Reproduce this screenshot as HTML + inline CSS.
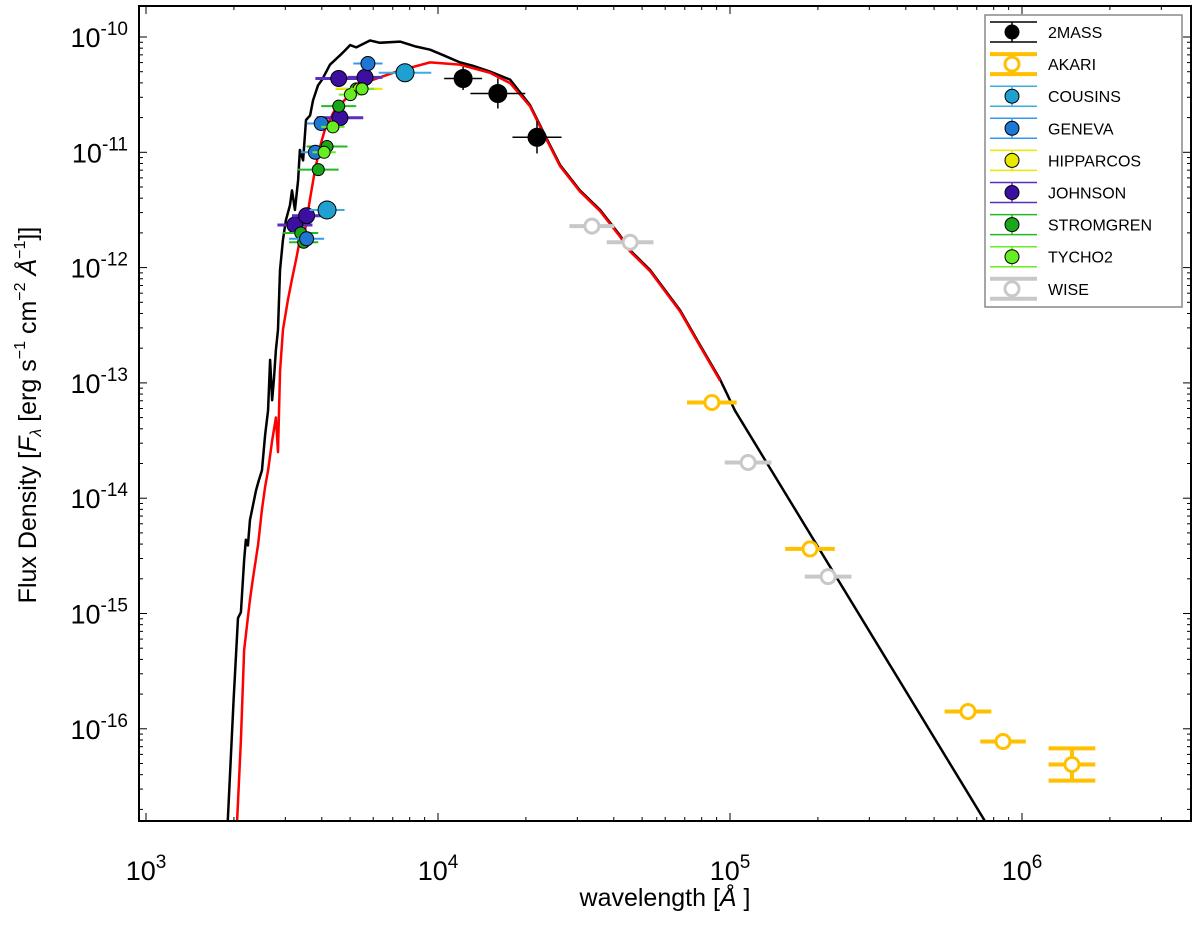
<!DOCTYPE html>
<html><head><meta charset="utf-8"><style>
body{margin:0;background:#fff;width:1200px;height:922px;overflow:hidden}
svg text{font-family:"Liberation Sans","DejaVu Sans",sans-serif}
</style></head><body>
<svg id="chart" width="1200" height="922" xmlns="http://www.w3.org/2000/svg">
<g id="marks"></g><g id="axes"></g><g id="legend"></g>
</svg>
<script>
// data in log10 units
const blackL=[3.28,3.30,3.315,3.325,3.336,3.342,3.349,3.356,3.377,3.387,3.397,3.408,3.418,3.425,3.432,3.438,3.445,3.452,3.459,3.469,3.479,3.493,3.50,3.51,3.521,3.527,3.538,3.548,3.562,3.572,3.589,3.603,3.63,3.664,3.68,3.699,3.72,3.767,3.8,3.87,3.92,3.973,4.02,4.075,4.12,4.178,4.247,4.315,4.366,4.418,4.486,4.555,4.623,4.658,4.726,4.829,4.897,4.966,5.017,5.873];
const blackF=[-16.8,-15.75,-15.04,-14.99,-14.54,-14.36,-14.41,-14.19,-13.93,-13.84,-13.76,-13.45,-13.24,-12.8,-13.15,-12.97,-12.71,-12.54,-12.02,-11.76,-11.59,-11.46,-11.33,-11.5,-11.24,-10.98,-11.07,-10.72,-10.68,-10.55,-10.42,-10.37,-10.24,-10.16,-10.12,-10.07,-10.09,-10.03,-10.05,-10.04,-10.08,-10.11,-10.16,-10.22,-10.25,-10.30,-10.37,-10.59,-10.85,-11.11,-11.33,-11.5,-11.72,-11.85,-12.02,-12.37,-12.67,-12.97,-13.24,-16.8];
const redL=[3.312,3.325,3.336,3.356,3.366,3.384,3.397,3.408,3.418,3.432,3.445,3.452,3.459,3.469,3.486,3.5,3.514,3.527,3.545,3.562,3.579,3.596,3.613,3.647,3.699,3.767,3.87,3.973,4.075,4.178,4.247,4.315,4.366,4.418,4.486,4.555,4.623,4.658,4.726,4.829,4.897,4.966];
const redF=[-16.8,-16.1,-15.32,-14.88,-14.7,-14.4,-14.1,-13.9,-13.76,-13.5,-13.3,-13.6,-12.9,-12.54,-12.28,-12.1,-11.93,-11.76,-11.67,-11.4,-11.15,-10.95,-10.8,-10.63,-10.5,-10.38,-10.29,-10.22,-10.24,-10.31,-10.4,-10.6,-10.86,-11.12,-11.34,-11.51,-11.73,-11.86,-12.03,-12.38,-12.68,-12.98];
// photometry: [log lambda, log flux, x half-width (dex), y err (dex)]
const mass2=[[4.086,-10.36,0.065,0.1],[4.205,-10.49,0.094,0.13],[4.339,-10.87,0.084,0.14]];
const wise=[[4.527,-11.64,0.077,0],[4.658,-11.78,0.08,0],[5.062,-13.69,0.08,0],[5.336,-14.68,0.08,0]];
const akari=[[4.938,-13.17,0.085,0],[5.274,-14.44,0.085,0],[5.815,-15.85,0.08,0],[5.935,-16.11,0.078,0],[6.171,-16.31,0.08,0.14]];
const cousins=[[3.887,-10.31,0.09,0],[3.62,-11.5,0.06,0]];
const geneva=[[3.76,-10.23,0.05,0],[3.55,-11.75,0.06,0],[3.58,-11.0,0.05,0],[3.6,-10.75,0.05,0]];
const hipparcos=[[3.73,-10.45,0.08,0]];
const johnson=[[3.664,-10.70,0.08,0],[3.66,-10.36,0.08,0],[3.51,-11.63,0.06,0],[3.55,-11.55,0.05,0],[3.75,-10.35,0.06,0]];
const stromgren=[[3.53,-11.7,0.06,0],[3.59,-11.15,0.07,0],[3.62,-10.95,0.07,0],[3.66,-10.6,0.06,0],[3.72,-10.45,0.07,0],[3.54,-11.78,0.05,0]];
const tycho=[[3.64,-10.78,0.04,0],[3.7,-10.5,0.04,0],[3.74,-10.45,0.04,0],[3.61,-11.0,0.04,0]];
const xTickExp=[3,4,5,6];
const yTickExp=[-10,-11,-12,-13,-14,-15,-16];

const X0=139,X1=1191,Y0=6,Y1=821;
const xs=l=>146+(l-3)*292;
const ys=f=>37+(-10-f)*115.3;
const NS="http://www.w3.org/2000/svg";
function mk(tag,parent,attrs){const e=document.createElementNS(NS,tag);for(const k in attrs)e.setAttribute(k,attrs[k]);parent.appendChild(e);return e;}
const marks=document.getElementById('marks'),axes=document.getElementById('axes'),leg=document.getElementById('legend');
const clip=mk('clipPath',marks,{id:'cp'});mk('rect',clip,{x:X0,y:Y0,width:X1-X0,height:Y1-Y0});
const g=mk('g',marks,{'clip-path':'url(#cp)'});

function line(L,F,color,name){
  const p=mk('polyline',g,{points:L.map((l,i)=>xs(l)+','+ys(F[i])).join(' '),fill:'none',stroke:color,'stroke-width':2.5,'stroke-linejoin':'round'});
  
  
}
function pts(arr,opt,name){
  arr.forEach(d=>{
    const grp=mk('g',g,{});
    
    
    const cx=xs(d[0]),cy=ys(d[1]),x1=xs(d[0]-d[2]),x2=xs(d[0]+d[2]);
    mk('line',grp,{x1:x1,x2:x2,y1:cy,y2:cy,stroke:opt.ec,'stroke-width':opt.lw});
    if(d[3]>0){mk('line',grp,{x1:cx,x2:cx,y1:ys(d[1]+d[3]),y2:ys(d[1]-d[3]),stroke:opt.ec,'stroke-width':opt.lw});
      if(opt.caps){[1,-1].forEach(s=>mk('line',grp,{x1:x1,x2:x2,y1:ys(d[1]+s*d[3]),y2:ys(d[1]+s*d[3]),stroke:opt.ec,'stroke-width':opt.lw}));}}
    mk('circle',grp,{cx:cx,cy:cy,r:opt.r,fill:opt.fc,stroke:opt.sc,'stroke-width':opt.sw});
  });
}
line(blackL,blackF,'#000','model-black-line');
line(redL,redF,'#ff0000','model-red-line');
pts(johnson,{ec:'#5a2fbf',lw:3,r:8,fc:'#3d0fa0',sc:'#000',sw:1},'johnson-point');
pts(stromgren,{ec:'#22bb22',lw:2,r:6,fc:'#1aa81a',sc:'#000',sw:1},'stromgren-point');
pts(geneva,{ec:'#3399ee',lw:2,r:7,fc:'#1f77d4',sc:'#000',sw:1},'geneva-point');
pts(hipparcos,{ec:'#e8e800',lw:2,r:6,fc:'#e8e800',sc:'#000',sw:1},'hipparcos-point');
pts(tycho,{ec:'#66ee22',lw:2,r:6,fc:'#66ee22',sc:'#000',sw:1},'tycho2-point');
pts(cousins,{ec:'#3aaee0',lw:2,r:9,fc:'#1fa0d0',sc:'#000',sw:1},'cousins-point');
pts(mass2,{ec:'#000',lw:1.5,r:9,fc:'#000',sc:'#000',sw:1},'2mass-point');
pts(wise,{ec:'#c8c8c8',lw:4,r:7,fc:'#fff',sc:'#c8c8c8',sw:3},'wise-point');
pts(akari,{ec:'#ffc000',lw:4,r:7,fc:'#fff',sc:'#ffc000',sw:3,caps:true},'akari-point');

const fr=mk('rect',axes,{x:X0,y:Y0,width:X1-X0,height:Y1-Y0,fill:'none',stroke:'#000','stroke-width':2});

for(let e=2;e<=6;e++)for(let m=1;m<10;m++){
  const x=xs(e+Math.log10(m));if(x<X0||x>X1)continue;const len=m==1?8:4;
  mk('line',axes,{x1:x,x2:x,y1:Y1,y2:Y1-len,stroke:'#000','stroke-width':1});
  mk('line',axes,{x1:x,x2:x,y1:Y0,y2:Y0+len,stroke:'#000','stroke-width':1});
}
for(let e=-17;e<=-10;e++)for(let m=1;m<10;m++){
  const y=ys(e+Math.log10(m));if(y<Y0||y>Y1)continue;const len=m==1?8:4;
  mk('line',axes,{x1:X0,x2:X0+len,y1:y,y2:y,stroke:'#000','stroke-width':1});
  mk('line',axes,{x1:X1,x2:X1-len,y1:y,y2:y,stroke:'#000','stroke-width':1});
}
xTickExp.forEach(e=>{
  const t=mk('text',axes,{x:xs(e),y:880,'text-anchor':'middle','font-size':27});
  
  t.innerHTML='10<tspan dy="-12" font-size="19">'+e+'</tspan>';
});
yTickExp.forEach(e=>{
  const t=mk('text',axes,{x:128,y:ys(e)+10,'text-anchor':'end','font-size':27});
  
  t.innerHTML='10<tspan dy="-12" font-size="19">'+e+'</tspan>';
});
const xl=mk('text',axes,{x:665,y:906,'text-anchor':'middle','font-size':25});

xl.innerHTML='wavelength [<tspan font-style="italic">Å</tspan> ]';
const yl=mk('text',axes,{x:0,y:0,'text-anchor':'middle','font-size':25,transform:'translate(36,415) rotate(-90)'});

yl.innerHTML='Flux Density [<tspan font-style="italic">F</tspan><tspan font-size="16" dy="5" font-style="italic">λ</tspan><tspan dy="-5"> [erg  s</tspan><tspan font-size="16" dy="-11">−1</tspan><tspan dy="11"> cm</tspan><tspan font-size="16" dy="-11">−2</tspan><tspan dy="11"> </tspan><tspan font-style="italic">Å</tspan><tspan font-size="16" dy="-11">−1</tspan><tspan dy="11">]]</tspan>';

const lb=mk('rect',leg,{x:985,y:15,width:197,height:292,fill:'#fff',stroke:'#888','stroke-width':1.5});

const legNames=['2MASS','AKARI','COUSINS','GENEVA','HIPPARCOS','JOHNSON','STROMGREN','TYCHO2','WISE'];
const legStyle=[['#000','#000',1.5,'#000'],['#ffc000','#fff',4,'#ffc000'],['#3aaee0','#1fa0d0',1.5,'#000'],['#3399ee','#1f77d4',1.5,'#000'],['#e8e800','#e8e800',1.5,'#000'],['#5a2fbf','#3d0fa0',1.5,'#000'],['#22bb22','#1aa81a',1.5,'#000'],['#66ee22','#66ee22',1.5,'#000'],['#c8c8c8','#fff',4,'#c8c8c8']];
legNames.forEach((n,i)=>{
  const y=32+i*32.1;const s=legStyle[i];
  const e=mk('g',leg,{});
  
  
  mk('line',e,{x1:990,x2:1037,y1:y-10,y2:y-10,stroke:s[0],'stroke-width':s[2]});
  mk('line',e,{x1:990,x2:1037,y1:y+10,y2:y+10,stroke:s[0],'stroke-width':s[2]});
  mk('line',e,{x1:1012,x2:1012,y1:y-10,y2:y+10,stroke:s[0],'stroke-width':s[2]});
  mk('circle',e,{cx:1012,cy:y,r:7,fill:s[1],stroke:s[3],'stroke-width':s[2]>2?3:1});
  const t=mk('text',e,{x:1048,y:y+6,'font-size':16});t.textContent=n;
});
</script>
</body></html>
